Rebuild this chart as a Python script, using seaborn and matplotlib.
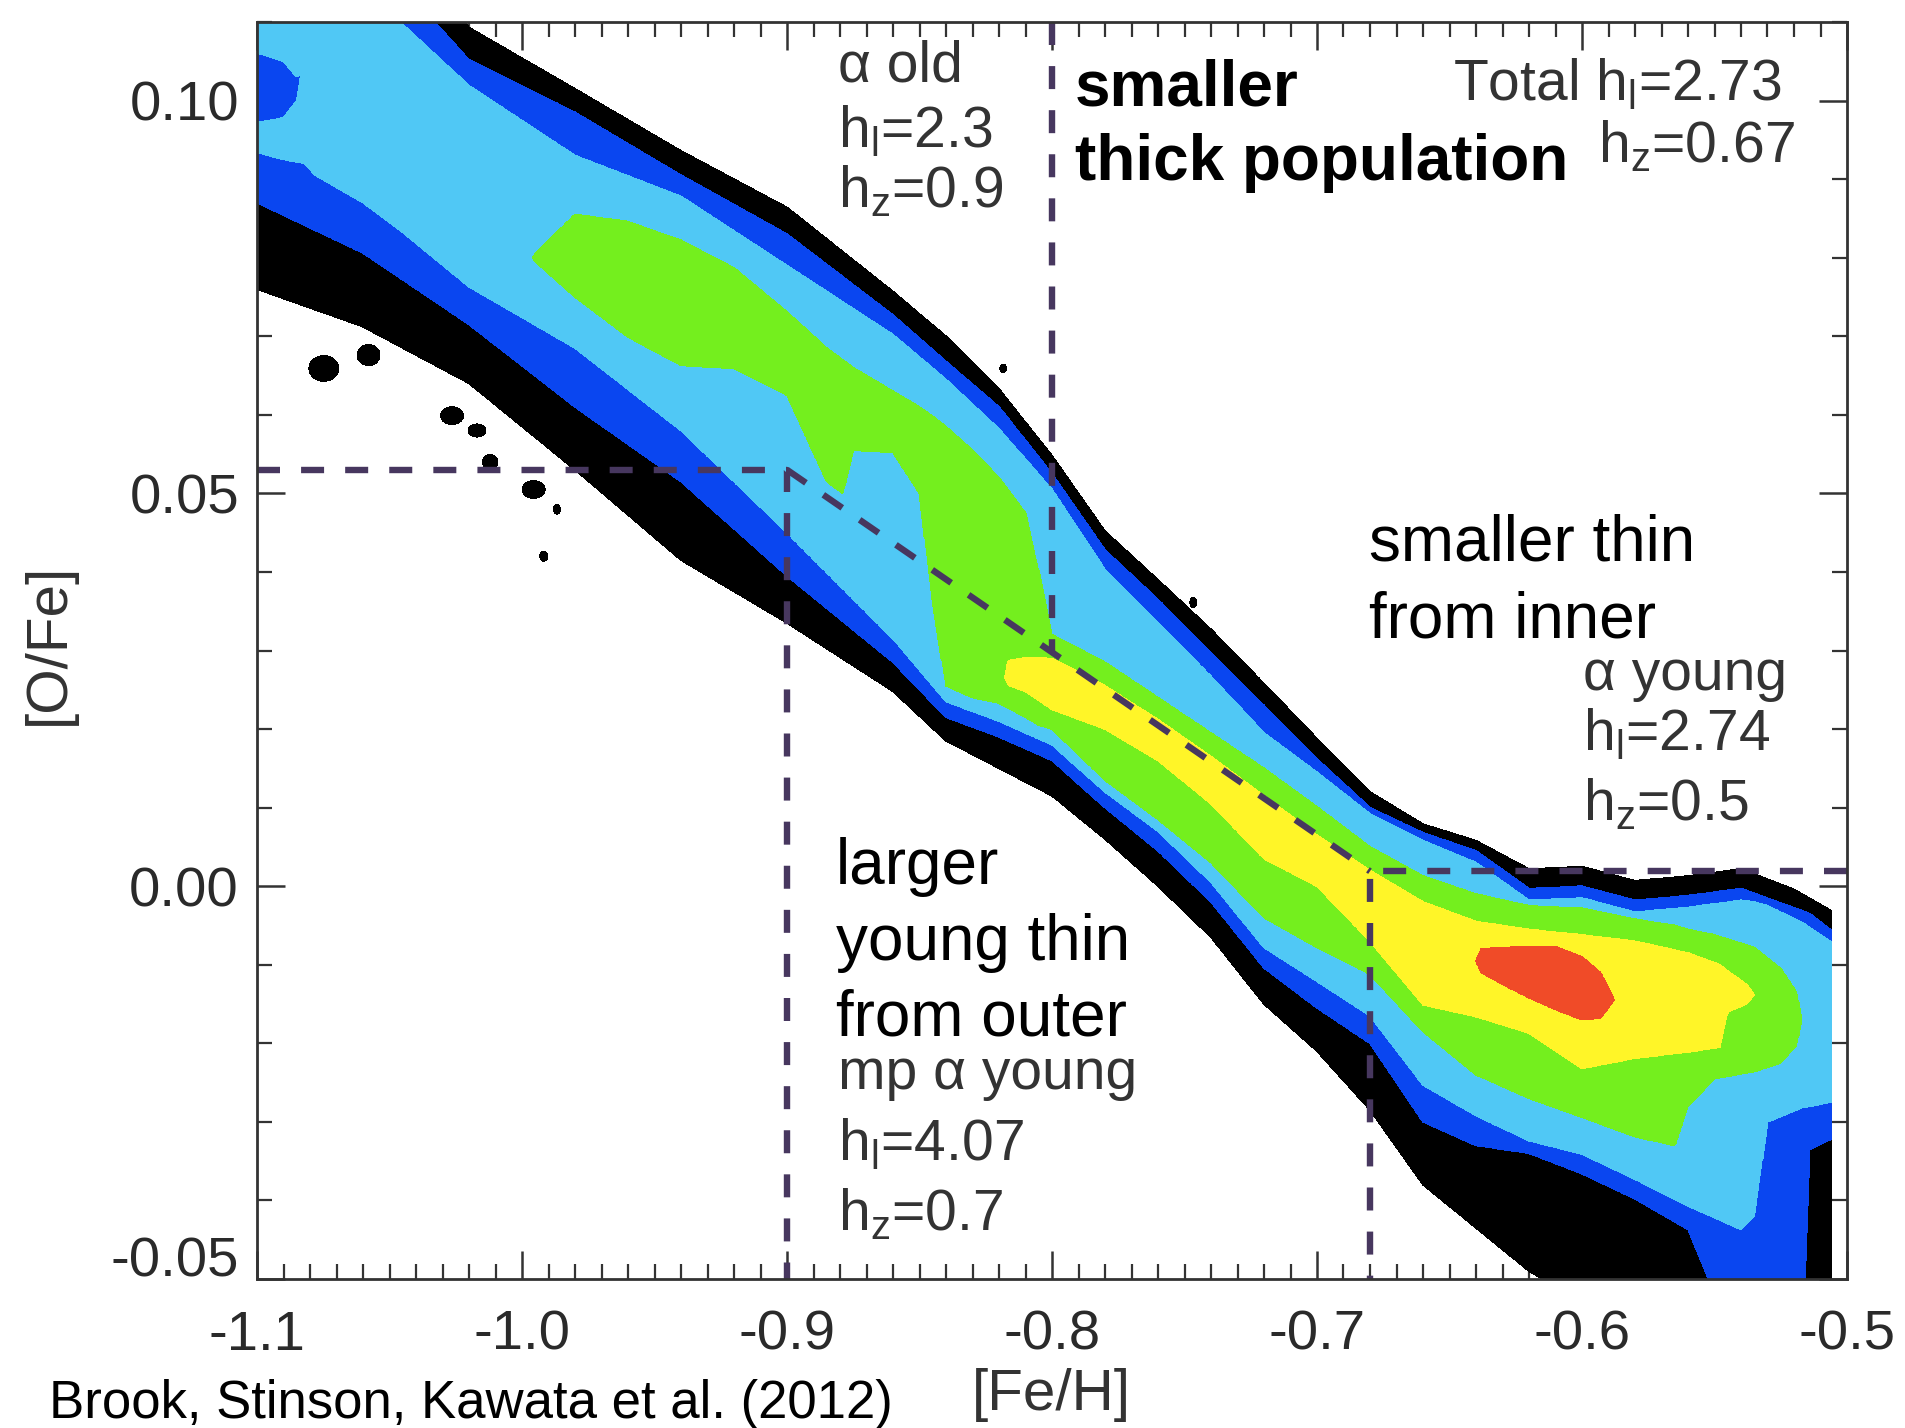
import numpy as np
import matplotlib
matplotlib.use("Agg")
import matplotlib.pyplot as plt
import matplotlib.transforms as mtransforms
from matplotlib.ticker import FixedLocator, FixedFormatter, MultipleLocator
import seaborn as sns

# ---------------------------------------------------------------------------
# Density bands in the [Fe/H]-[O/Fe] plane.  Each band is given by nodes along
# [Fe/H] with the upper and lower [O/Fe] edge of the band at that node.
# ---------------------------------------------------------------------------
black_feh = [-1.10, -1.06, -1.02, -0.98, -0.94, -0.90, -0.86, -0.84, -0.82, -0.80,
             -0.78, -0.76, -0.74, -0.72, -0.70, -0.68, -0.66, -0.64, -0.62, -0.60,
             -0.58, -0.56, -0.54, -0.52, -0.506]
black_top = [0.130, 0.125, 0.1093, 0.1015, 0.0936, 0.0864, 0.0757, 0.0700, 0.0633, 0.0548,
             0.0452, 0.0390, 0.0327, 0.0258, 0.0188, 0.0120, 0.0079, 0.0058, 0.0022, 0.0025,
             0.0007, 0.0013, 0.0022, -0.0004, -0.0031]
black_bot = [0.0760, 0.0712, 0.0640, 0.0530, 0.0415, 0.0335, 0.0248, 0.0185, 0.0150, 0.0115,
             0.0060, 0.0000, -0.0065, -0.0150, -0.0210, -0.0285, -0.0380, -0.0435, -0.0490, -0.0530,
             -0.0600, -0.0600, -0.0600, -0.0600, -0.0600]

dblue_feh = [-1.10, -1.06, -1.02, -0.98, -0.94, -0.90, -0.86, -0.84, -0.82, -0.80,
             -0.78, -0.76, -0.74, -0.72, -0.70, -0.68, -0.66, -0.64, -0.62, -0.60,
             -0.58, -0.56, -0.54, -0.517, -0.514, -0.506]
dblue_top = [0.125, 0.120, 0.1052, 0.0985, 0.0905, 0.0830, 0.0727, 0.0668, 0.0610, 0.0525,
             0.0428, 0.0365, 0.0297, 0.0230, 0.0162, 0.0100, 0.0068, 0.0045, -0.0003, 0.0000,
             -0.0018, -0.0012, -0.0003, -0.0031, -0.0035, -0.0056]
dblue_bot = [0.0870, 0.0806, 0.0715, 0.0610, 0.0515, 0.0395, 0.0285, 0.0215, 0.0190, 0.0160,
             0.0100, 0.0045, -0.0020, -0.0104, -0.0155, -0.0200, -0.0300, -0.0330, -0.0340, -0.0366,
             -0.0398, -0.0437, -0.0600, -0.0600, -0.0335, -0.0322]

lblue_feh = [-1.10, -1.09, -1.085, -1.082, -1.078, -1.06, -1.046, -1.02, -0.98, -0.94,
             -0.90, -0.86, -0.84, -0.82, -0.80, -0.78, -0.76, -0.74, -0.72, -0.70,
             -0.68, -0.66, -0.64, -0.62, -0.60, -0.58, -0.56, -0.54, -0.535, -0.53,
             -0.517, -0.506]
lblue_top = [0.0972, 0.0978, 0.1000, 0.1060, 0.1150, 0.1135, 0.1100, 0.1019, 0.0930, 0.0878,
             0.0790, 0.0702, 0.0645, 0.0582, 0.0505, 0.0403, 0.0335, 0.0267, 0.0195, 0.0145,
             0.0092, 0.0058, 0.0030, -0.0018, -0.0015, -0.0033, -0.0027, -0.0018, -0.0020, -0.0025,
             -0.0046, -0.0071]
lblue_bot = [0.0934, 0.0925, 0.0922, 0.0920, 0.0905, 0.0870, 0.0835, 0.0763, 0.0685, 0.0580,
             0.0450, 0.0315, 0.0235, 0.0210, 0.0180, 0.0120, 0.0070, 0.0005, -0.0078, -0.0121,
             -0.0165, -0.0253, -0.0292, -0.0324, -0.0341, -0.0373, -0.0407, -0.0437, -0.0420, -0.0300,
             -0.0282, -0.0275]

# light-blue cap above the small dark-blue pocket at the upper left corner
lcap_feh = [-1.10, -1.09, -1.085, -1.081, -1.079]
lcap_top = [0.130, 0.130, 0.130, 0.130, 0.100]
lcap_bot = [0.1061, 0.1050, 0.1030, 0.1040, 0.130]

green_feh = [-0.997, -0.995, -0.98, -0.96, -0.94, -0.92, -0.90, -0.885, -0.879, -0.875,
             -0.86, -0.85, -0.845, -0.84, -0.83, -0.82, -0.81, -0.805, -0.80, -0.78,
             -0.76, -0.74, -0.72, -0.70, -0.68, -0.66, -0.64, -0.62, -0.60, -0.58,
             -0.565, -0.56, -0.55, -0.535, -0.525, -0.519, -0.517]
green_top = [0.0795, 0.0805, 0.0855, 0.0846, 0.0822, 0.0787, 0.0731, 0.0685, 0.0670, 0.0660,
             0.0630, 0.0610, 0.0598, 0.0585, 0.0555, 0.0520, 0.0475, 0.0400, 0.0320, 0.0285,
             0.0240, 0.0195, 0.0150, 0.0101, 0.0050, 0.0013, -0.0010, -0.0025, -0.0028, -0.0042,
             -0.0050, -0.0055, -0.0062, -0.0078, -0.0105, -0.0135, -0.0175]
green_bot = [0.0805, 0.0795, 0.0750, 0.0699, 0.0663, 0.0659, 0.0625, 0.0515, 0.0500, 0.0555,
             0.0552, 0.0500, 0.0360, 0.0255, 0.0240, 0.0233, 0.0215, 0.0205, 0.0200, 0.0135,
             0.0085, 0.0030, -0.0040, -0.0078, -0.0112, -0.0185, -0.0240, -0.0270, -0.0294, -0.0319,
             -0.0330, -0.0280, -0.0245, -0.0236, -0.0225, -0.0202, -0.0165]

yellow_feh = [-0.818, -0.8165, -0.81, -0.80, -0.78, -0.76, -0.74, -0.72, -0.70, -0.68,
              -0.66, -0.64, -0.62, -0.60, -0.58, -0.56, -0.548, -0.545, -0.538, -0.5345]
yellow_top = [0.0262, 0.0287, 0.0291, 0.0290, 0.0255, 0.0212, 0.0165, 0.0115, 0.0065, 0.0020,
              -0.0020, -0.0045, -0.0055, -0.0062, -0.0070, -0.0085, -0.0100, -0.0108, -0.0125, -0.0140]
yellow_bot = [0.0268, 0.0256, 0.0248, 0.0225, 0.0200, 0.0160, 0.0105, 0.0035, 0.0000, -0.0070,
              -0.0151, -0.0166, -0.0187, -0.0232, -0.0219, -0.0211, -0.0205, -0.0160, -0.0150, -0.0136]

red_feh = [-0.6405, -0.638, -0.63, -0.62, -0.61, -0.60, -0.593, -0.5875]
red_top = [-0.0098, -0.0080, -0.0078, -0.0077, -0.0077, -0.0090, -0.0110, -0.0147]
red_bot = [-0.0092, -0.0110, -0.0125, -0.0142, -0.0157, -0.0170, -0.0168, -0.0143]

# isolated low-density specks (lowest level)
speck_feh = [-1.0748, -1.0579, -1.0264, -1.0170, -1.0120, -0.9956, -0.9868, -0.9918, -0.7467, -0.8184]
speck_ofe = [0.0659, 0.0676, 0.0599, 0.0580, 0.0540, 0.0505, 0.0480, 0.0420, 0.0361, 0.0659]
speck_rx = [0.0055, 0.0042, 0.0042, 0.0032, 0.0028, 0.0042, 0.0012, 0.0014, 0.0012, 0.0012]
speck_ry = [0.0016, 0.0013, 0.0011, 0.0008, 0.0009, 0.0011, 0.0006, 0.0006, 0.0006, 0.0005]

feh_max = -0.5058   # metallicity cut-off of the sample

level_colors = ["#000000", "#0a46f0", "#50c8f5", "#74ef1e", "#fff528", "#f04b28"]

# dashed population boundaries
thick_div_feh = [-0.80, -0.80]
thick_div_ofe = [0.11, 0.0299]
old_box_feh = [-1.10, -0.90, -0.90]
old_box_ofe = [0.0530, 0.0530, -0.05]
diag_feh = [-0.90, -0.68]
diag_ofe = [0.0530, 0.0019]
young_box_feh = [-0.50, -0.68, -0.68]
young_box_ofe = [0.0019, 0.0019, -0.05]

xtick_vals = [-1.1, -1.0, -0.9, -0.8, -0.7, -0.6, -0.5]
xtick_text = ["-1.1", "-1.0", "-0.9", "-0.8", "-0.7", "-0.6", "-0.5"]
ytick_vals = [-0.05, 0.00, 0.05, 0.10]
ytick_text = ["-0.05", "0.00", "0.05", "0.10"]

# ---------------------------------------------------------------------------
sns.set_theme(style="ticks")
plt.rcParams["font.family"] = ["Liberation Sans", "DejaVu Sans"]
plt.rcParams["mathtext.fontset"] = "custom"
plt.rcParams["mathtext.rm"] = "Liberation Sans"
plt.rcParams["mathtext.it"] = "Liberation Sans"
plt.rcParams["mathtext.default"] = "regular"

W, H = 1905, 1428
fig = plt.figure(figsize=(W / 100, H / 100), dpi=100)
fig.patch.set_facecolor("white")
ax = fig.add_axes([257 / W, 1 - 1279 / H, (1847 - 257) / W, (1279 - 22) / H])
ax.set_facecolor("white")

# build a piecewise field whose level sets are the band edges
gx = np.linspace(-1.1, -0.5, 1501)
gy = np.linspace(-0.05, 0.11, 1001)
GX, GY = np.meshgrid(gx, gy)
eps = 0.00015
field = np.full(GX.shape, -1e9)

bands = [
    (1, black_feh, black_top, black_bot),
    (2, dblue_feh, dblue_top, dblue_bot),
    (3, lblue_feh, lblue_top, lblue_bot),
    (3, lcap_feh, lcap_top, lcap_bot),
    (4, green_feh, green_top, green_bot),
    (5, yellow_feh, yellow_top, yellow_bot),
    (6, red_feh, red_top, red_bot),
]
for lev, xs, top, bot in bands:
    top = np.asarray(top)
    bot = np.asarray(bot)
    c = np.interp(gx, xs, 0.5 * (top + bot))
    hw = np.interp(gx, xs, 0.5 * (top - bot))
    inside = (gx >= xs[0]) & (gx <= xs[-1]) & (hw > 0)
    g = hw[None, :] - np.abs(GY - c[None, :])
    contrib = lev - 0.5 + np.minimum(g / eps, 0.5)
    contrib = np.where(inside[None, :], contrib, -1e9)
    field = np.maximum(field, contrib)

for bx, by, rx, ry in zip(speck_feh, speck_ofe, speck_rx, speck_ry):
    r = np.sqrt(((GX - bx) / rx) ** 2 + ((GY - by) / ry) ** 2)
    g = ry * (1 - r)
    field = np.maximum(field, 0.5 + np.minimum(g / eps, 0.5))

field[:, gx > feh_max] = -1e9

cs = ax.contourf(GX, GY, field, levels=[0.5, 1.5, 2.5, 3.5, 4.5, 5.5, 6.5],
                 colors=level_colors, zorder=1)
cs.set_edgecolor("face")
cs.set_linewidth(0.4)

# dashed boundaries
dash_kw = dict(color="#47375f", lw=4.6, linestyle=(0, (3.6, 3.3)),
               sort=False, estimator=None, ax=ax, zorder=3, legend=False)
for xs, ys in [(thick_div_feh, thick_div_ofe), (old_box_feh, old_box_ofe),
               (diag_feh, diag_ofe), (young_box_feh, young_box_ofe)]:
    sns.lineplot(x=xs, y=ys, **dash_kw)

ax.set_xlim(-1.1, -0.5)
ax.set_ylim(-0.05, 0.11)
ax.set_xlabel("")
ax.set_ylabel("")

ax.xaxis.set_major_locator(FixedLocator(xtick_vals))
ax.xaxis.set_major_formatter(FixedFormatter(xtick_text))
ax.yaxis.set_major_locator(FixedLocator(ytick_vals))
ax.yaxis.set_major_formatter(FixedFormatter(ytick_text))
ax.xaxis.set_minor_locator(MultipleLocator(0.01))
ax.yaxis.set_minor_locator(MultipleLocator(0.01))

axis_col = "#333333"
ax.tick_params(which="major", direction="in", length=20, width=1.8, colors=axis_col,
               top=True, right=True, labelsize=40.5, labelcolor="#2a2a2a")
ax.tick_params(which="minor", direction="in", length=11, width=1.6, colors=axis_col,
               top=True, right=True)
ax.tick_params(axis="x", which="major", pad=22)
ax.tick_params(axis="y", which="major", pad=13)
for sp in ax.spines.values():
    sp.set_visible(True)
    sp.set_color(axis_col)
    sp.set_linewidth(2.0)
    sp.set_zorder(5)

# lift the lowest y label clear of the x labels
lowlab = ax.yaxis.get_major_ticks()[0].label1
lowlab.set_transform(lowlab.get_transform() +
                     mtransforms.ScaledTranslation(0, 16 / 72, fig.dpi_scale_trans))


def ftext(xp, yp, s, **kw):
    fig.text(xp / W, 1 - yp / H, s, **kw)


idl = dict(fontsize=41, color="#333333", va="baseline", ha="left")
big = dict(fontsize=46, color="black", va="baseline", ha="left")

ftext(838, 82, "\u03b1 old", **idl)
ftext(838, 147, r"h$_l$=2.3", **idl)
ftext(838, 207, r"h$_z$=0.9", **idl)

ftext(1075, 106, "smaller", fontweight="bold", **big)
ftext(1075, 180, "thick population", fontweight="bold", **big)

ftext(1782, 100, r"Total h$_l$=2.73", **dict(idl, ha="right"))
ftext(1598, 162, r"h$_z$=0.67", **idl)

ftext(1369, 561, "smaller thin", **big)
ftext(1369, 638, "from inner", **big)

ftext(1583, 690, "\u03b1 young", **idl)
ftext(1583, 750, r"h$_l$=2.74", **idl)
ftext(1583, 820, r"h$_z$=0.5", **idl)

ftext(836, 884, "larger", **big)
ftext(836, 960, "young thin", **big)
ftext(836, 1035, "from outer", **big)

ftext(838, 1089, "mp \u03b1 young", **idl)
ftext(838, 1160, r"h$_l$=4.07", **idl)
ftext(838, 1230, r"h$_z$=0.7", **idl)

ftext(49, 1418, "Brook, Stinson, Kawata et al. (2012)", fontsize=38, color="black",
      va="baseline", ha="left")

ftext(1051, 1395, "[Fe/H]", fontsize=42, color="#333333", ha="center", va="center")
ftext(49, 644, "[O/Fe]", fontsize=42, color="#333333", ha="center", va="center",
      rotation=90)

fig.savefig("out.png", dpi=100, facecolor="white")
